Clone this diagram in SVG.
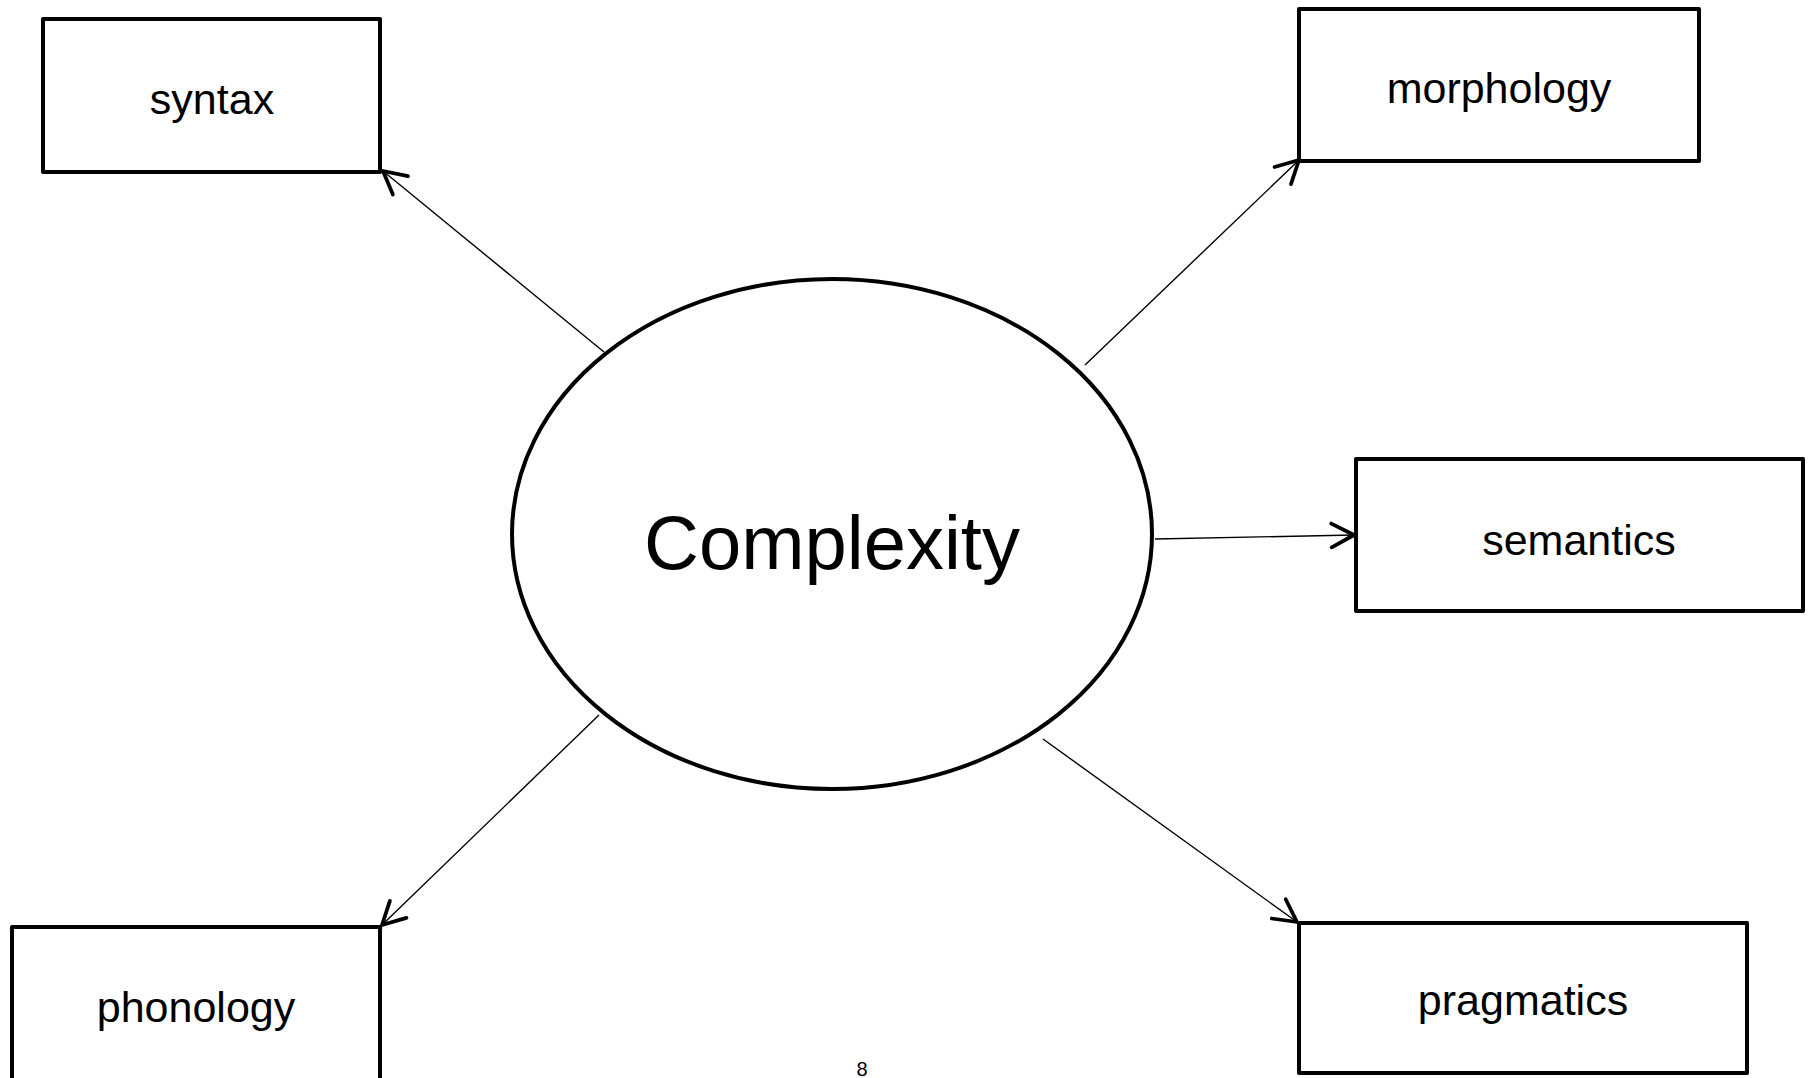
<svg xmlns="http://www.w3.org/2000/svg" width="1810" height="1078" viewBox="0 0 1810 1078">
<style>
.box{fill:#fff;stroke:#000;stroke-width:4;stroke-linejoin:round}
.lbl{font-family:"Liberation Sans",Arial,sans-serif;font-size:43px;fill:#000;text-anchor:middle}
.edge{stroke:#000;stroke-width:1.4;fill:none}
</style>
<defs>
<marker id="arr" markerUnits="userSpaceOnUse" markerWidth="30" markerHeight="30" viewBox="0 0 24 20" refX="20" refY="10" orient="auto">
<path d="M2,0.5 L20,10 L2,19.5" fill="none" stroke="#000" stroke-width="3" stroke-linecap="round" stroke-linejoin="round"/>
</marker>
</defs>
<rect width="1810" height="1078" fill="#fff"/>
<g id="connectors">
<line class="edge" x1="604" y1="352" x2="383" y2="171" marker-end="url(#arr)"/>
<line class="edge" x1="1085" y1="365" x2="1299" y2="160" marker-end="url(#arr)"/>
<line class="edge" x1="1155" y1="539" x2="1354" y2="535" marker-end="url(#arr)"/>
<line class="edge" x1="599" y1="715" x2="382" y2="925" marker-end="url(#arr)"/>
<line class="edge" x1="1043" y1="739" x2="1297" y2="922" marker-end="url(#arr)"/>
</g>
<g id="complexity">
<ellipse cx="832" cy="534" rx="320" ry="255" fill="#fff" stroke="#000" stroke-width="4"/>
<text x="832" y="569" font-family="Liberation Sans, Arial, sans-serif" font-size="76" text-anchor="middle">Complexity</text>
</g>
<g id="syntax">
<rect class="box" x="43" y="19" width="337" height="153"/>
<text class="lbl" x="212" y="114">syntax</text>
</g>
<g id="morphology">
<rect class="box" x="1299" y="9" width="400" height="152"/>
<text class="lbl" x="1499" y="103">morphology</text>
</g>
<g id="semantics">
<rect class="box" x="1356" y="459" width="447" height="152"/>
<text class="lbl" x="1579" y="555">semantics</text>
</g>
<g id="phonology">
<rect class="box" x="12" y="927" width="368" height="170"/>
<text class="lbl" x="196" y="1022">phonology</text>
</g>
<g id="pragmatics">
<rect class="box" x="1299" y="923" width="448" height="150"/>
<text class="lbl" x="1523" y="1015">pragmatics</text>
</g>
<text x="862" y="1076" font-family="Liberation Sans, Arial, sans-serif" font-size="20" text-anchor="middle">8</text>
</svg>
